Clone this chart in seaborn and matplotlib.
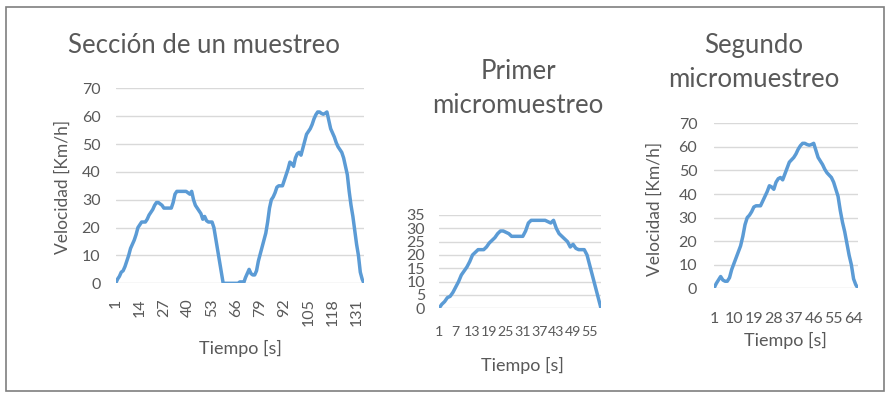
import matplotlib
matplotlib.use("Agg")
import matplotlib.pyplot as plt
import seaborn as sns
import pandas as pd
from matplotlib.patches import Rectangle

# Velocidad [Km/h] por segundo
primer = [0, 1.5, 2.5, 4, 4.5, 6, 8, 10, 12.5, 14, 15.5, 17.5, 20, 21, 22, 22, 22, 23,
          24.5, 25.5, 26.5, 28, 29, 29, 28.5, 28, 27, 27, 27, 27, 27, 29, 32, 33, 33,
          33, 33, 33, 33, 32.5, 32, 33, 30, 28, 27, 26, 25, 23, 24, 22.5, 22, 22, 22,
          20, 16, 12, 8, 4, 0]
pausa = [0, 0, 0, 0, 0, 0, 0, 0, 0.5, 0.5]
segundo = [0, 2, 3.5, 5, 3.5, 3, 3, 4.5, 8, 10.5, 13, 15.5, 18, 22, 27, 30, 31, 32.5,
           34.5, 35, 35, 35, 37, 39, 41, 43.5, 43, 42, 45, 46.5, 47, 46, 48.5, 51,
           53.5, 54.5, 55.5, 57, 59, 60.5, 61.5, 61.5, 61, 60.7, 61, 61.5, 58.5, 55.5,
           54, 52.5, 50.5, 49, 48, 47, 45, 42, 39, 33, 28, 24, 19, 14, 10, 4, 1.5, 0]
seccion = primer + pausa + segundo

ticks_seccion = [1, 14, 27, 40, 53, 66, 79, 92, 105, 118, 131]
ticks_primer = [1, 7, 13, 19, 25, 31, 37, 43, 49, 55]
ticks_segundo = [1, 10, 19, 28, 37, 46, 55, 64]

titulos = ["Sección de un muestreo", "Primer\nmicromuestreo", "Segundo\nmicromuestreo"]
etiqueta_x = "Tiempo [s]"
etiqueta_y = "Velocidad [Km/h]"

sns.set_theme(style="white")
plt.rcParams["font.family"] = ["Lato", "DejaVu Sans"]

GRIS = "#595959"
AZUL = "#5b9bd5"
REJILLA = "#d9d9d9"
W, H = 896, 400

fig = plt.figure(figsize=(W / 100, H / 100), dpi=100)


def rect(x0, x1, y_top, y_bot):
    return [x0 / W, 1 - y_bot / H, (x1 - x0) / W, (y_bot - y_top) / H]


def panel(pos, valores, ymax, ystep, xticks, rot, xpad, ypad, xsize=11.5):
    ax = fig.add_axes(pos)
    df = pd.DataFrame({"t": range(1, len(valores) + 1), "v": valores})
    sns.lineplot(data=df, x="t", y="v", ax=ax, color=AZUL, linewidth=2.5)
    ax.set_xlim(1, len(valores))
    ax.set_ylim(0, ymax)
    ax.set_yticks(range(0, ymax + 1, ystep))
    ax.set_xticks(xticks)
    ax.set_xticklabels([str(t) for t in xticks], rotation=rot)
    ax.grid(axis="y", color=REJILLA, linewidth=1)
    ax.grid(axis="x", visible=False)
    for s in ax.spines.values():
        s.set_visible(False)
    ax.tick_params(axis="both", length=0, colors=GRIS, labelsize=11.5)
    ax.tick_params(axis="x", pad=xpad, labelsize=xsize)
    ax.tick_params(axis="y", pad=ypad)
    ax.set_xlabel("")
    ax.set_ylabel("")
    return ax


ax1 = panel(rect(115.7, 364, 88.3, 283.3), seccion, 70, 10, ticks_seccion, 90, 11, 11)
ax2 = panel(rect(439, 601, 215, 308.3), primer, 35, 5, ticks_primer, 0, 13, 10, xsize=10.2)
ax3 = panel(rect(714, 858, 123.3, 288.3), segundo, 70, 10, ticks_segundo, 0, 17, 12)


def texto(x, y, s, size, **kw):
    fig.text(x / W, 1 - y / H, s, fontsize=size, color=GRIS, ha="center", **kw)


# títulos
texto(204, 53, titulos[0], 18.5, va="baseline")
t1, t2 = titulos[1].split("\n")
texto(518, 79, t1, 18.5, va="baseline")
texto(518, 113, t2, 18.5, va="baseline")
s1, s2 = titulos[2].split("\n")
texto(754, 53, s1, 18.5, va="baseline")
texto(754, 87, s2, 18.5, va="baseline")

# etiquetas de ejes
texto(240, 348, etiqueta_x, 13, va="center")
texto(522, 365, etiqueta_x, 13, va="center")
texto(785, 340, etiqueta_x, 13, va="center")
texto(63, 187, etiqueta_y, 12.5, va="center", rotation=90)
texto(655, 209, etiqueta_y, 12.5, va="center", rotation=90)

# marco
fig.patches.append(Rectangle((6 / W, 1 - 391 / H), 878 / W, 384 / H,
                             transform=fig.transFigure, fill=False,
                             edgecolor="#7f7f7f", linewidth=1.2))

fig.savefig("out.png", dpi=100, facecolor="white")
